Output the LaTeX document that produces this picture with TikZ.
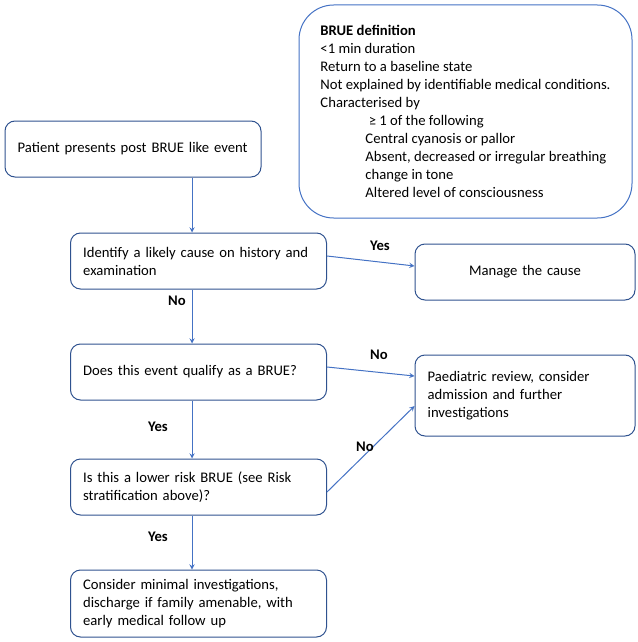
\documentclass[tikz,border=0pt]{standalone}
\usepackage{fontspec}
\setmainfont{Carlito}
\usepackage{tikz}
\usetikzlibrary{positioning,shapes,arrows}
\definecolor{boxblue}{HTML}{2F528F}
\definecolor{defblue}{HTML}{4472C4}
\definecolor{arrowblue}{HTML}{4472C4}

\begin{document}
\begin{tikzpicture}[x=0.75pt, y=-0.75pt,
    box/.style={draw=boxblue, line width=0.75pt, rectangle, rounded corners=7.5pt, inner xsep=9.5pt, font=\fontsize{11}{13.5}\selectfont},
    stepbox/.style={box, align=left, text width=173pt, minimum height=42pt},
    sidebox/.style={box, text width=146pt},
    flow/.style={draw=arrowblue, line width=0.75pt, -stealth},
    answer/.style={font=\fontsize{11}{13.5}\selectfont\bfseries}]
    \useasboundingbox (0,0) rectangle (637,642);

    % Define the boxes
    \node[box, draw=defblue, rounded corners=26pt, align=left, minimum width=249.75pt, minimum height=159.75pt] (definition) at (465.5,111.5) {\textbf{BRUE definition}\\
        <1 min duration\\
        Return to a baseline state\\
        Not explained by identifiable medical conditions.\\
        Characterised by\\
        \hspace*{33.75pt} ≥ 1 of the following\\
        \hspace*{33.75pt}Central cyanosis or pallor\\
        \hspace*{33.75pt}Absent, decreased or irregular breathing\\
        \hspace*{33.75pt}change in tone\\
        \hspace*{33.75pt}Altered level of consciousness};
    \node[stepbox] (start) at (133,149) {Patient presents post BRUE like event};
    \node[stepbox] (identify) at (198.5,261) {Identify a likely cause on history and\\ examination};
    \node[sidebox, align=center, minimum height=42pt] (manage) at (525,272) {Manage the cause};
    \node[stepbox] (qualify) at (198.5,372) {Does this event qualify as a BRUE?};
    \node[sidebox, align=left, minimum height=60.75pt] (paediatric) at (525,395.5) {Paediatric review, consider\\ admission and further\\ investigations};
    \node[stepbox] (lowrisk) at (198.5,487) {Is this a lower risk BRUE (see Risk\\ stratification above)?};
    \node[stepbox, minimum height=50.25pt] (minimal) at (198.5,603.5) {Consider minimal investigations,\\ discharge if family amenable, with\\ early medical follow up};

    % Draw the main line
    \coordinate (spine) at (192,0);
    \draw[flow] (start.south -| spine) -- (identify.north -| spine);
    \draw[flow] (identify.south -| spine) -- (qualify.north -| spine);
    \draw[flow] (qualify.south -| spine) -- (lowrisk.north -| spine);
    \draw[flow] (lowrisk.south -| spine) -- (minimal.north -| spine);

    % Side branches
    \draw[flow] ([yshift=3.75pt]identify.east) -- ([yshift=4.5pt]manage.west);
    \draw[flow] ([yshift=3.75pt]qualify.east) -- ([yshift=14.6pt]paediatric.west);
    \draw[flow] ([yshift=-3.75pt]lowrisk.east) -- ([yshift=-7.9pt]paediatric.west);

    % Answers
    \node[answer] (yescause) at (380,246) {Yes};
    \node[answer] (nocause) at (177,301) {No};
    \node[answer] (nobrue) at (379,355) {No};
    \node[answer] (yesbrue) at (158,427) {Yes};
    \node[answer] (norisk) at (365,447) {No};
    \node[answer] (yesrisk) at (158,537) {Yes};
\end{tikzpicture}
\end{document}
